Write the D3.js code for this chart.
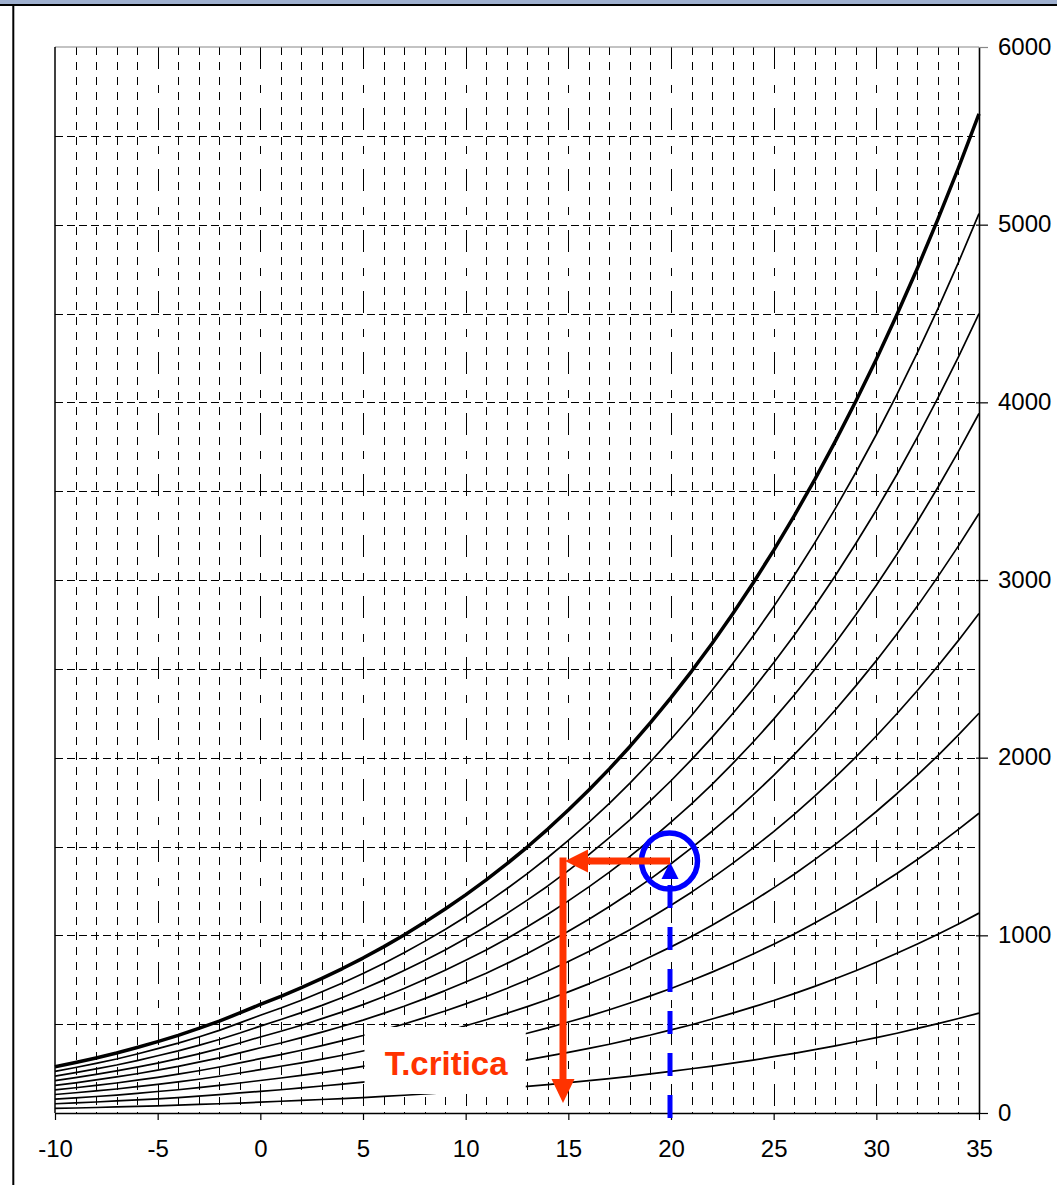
<!DOCTYPE html>
<html><head><meta charset="utf-8">
<script src="https://cdn.jsdelivr.net/npm/d3@7"></script>
<style>
html,body{margin:0;padding:0;background:#fff;}
svg{display:block;}
</style></head>
<body>
<svg id="chart" width="1057" height="1185"></svg>
<script>
// ---- data ----
const temps = [-10,-9,-8,-7,-6,-5,-4,-3,-2,-1,0,1,2,3,4,5,6,7,8,9,10,11,12,13,14,15,16,17,18,19,20,21,22,23,24,25,26,27,28,29,30,31,32,33,34,35];
const rh10 = [26,28,31,34,37,40,44,48,52,56,61,66,71,76,81,87,94,100,107,115,123,131,140,150,160,171,182,194,206,220,234,249,264,281,298,317,336,357,378,401,424,449,476,503,532,562];
const rh20 = [52,57,62,68,74,80,87,95,103,113,122,131,141,152,163,174,187,200,215,230,246,262,280,299,320,341,364,387,413,439,468,497,529,562,597,633,672,713,756,801,849,899,951,1006,1064,1125];
const rh30 = [78,85,93,101,111,121,131,143,155,169,183,197,212,227,244,262,281,301,322,344,368,394,421,449,479,512,545,581,619,659,701,746,793,843,895,950,1008,1070,1134,1202,1273,1348,1427,1509,1596,1687];
const rh40 = [104,114,124,135,148,161,175,190,207,225,244,263,282,303,325,349,374,401,429,459,491,525,561,599,639,682,727,775,825,879,935,994,1057,1124,1193,1267,1344,1426,1512,1602,1697,1797,1902,2012,2128,2250];
const rh50 = [130,142,155,169,185,201,219,238,259,282,306,329,353,379,407,436,468,501,537,574,614,656,701,749,799,853,909,969,1032,1099,1169,1243,1322,1405,1492,1584,1681,1783,1890,2003,2122,2247,2378,2516,2660,2812];
const rh60 = [156,170,186,203,221,241,262,286,310,338,367,394,424,455,488,523,561,601,644,689,737,787,841,898,959,1023,1091,1162,1238,1318,1403,1492,1586,1685,1790,1900,2017,2139,2268,2404,2546,2696,2853,3019,3192,3374];
const rh70 = [182,199,217,237,258,281,306,333,362,394,428,460,494,531,569,610,654,701,751,804,860,918,981,1048,1119,1194,1273,1356,1444,1538,1637,1740,1850,1966,2088,2217,2353,2496,2646,2804,2970,3145,3329,3522,3724,3937];
const rh80 = [208,227,248,270,295,322,350,381,414,450,489,526,565,606,650,698,748,802,858,918,982,1050,1122,1198,1278,1364,1454,1550,1650,1758,1870,1989,2114,2247,2386,2534,2689,2852,3024,3205,3394,3594,3804,4025,4256,4499];
const rh90 = [234,256,279,304,332,362,393,428,465,507,550,591,635,682,732,785,842,902,966,1033,1105,1181,1262,1347,1438,1535,1636,1743,1857,1977,2104,2237,2379,2528,2685,2850,3025,3209,3402,3605,3819,4044,4280,4528,4788,5062];
const rh100 = [260,284,310,338,369,402,437,476,517,563,611,657,706,758,813,872,935,1002,1073,1148,1228,1312,1402,1497,1598,1705,1818,1937,2063,2197,2338,2486,2643,2809,2983,3167,3361,3565,3780,4006,4243,4493,4755,5031,5320,5624];
const thinCurves = [rh10, rh20, rh30, rh40, rh50, rh60, rh70, rh80, rh90];
const satCurve = rh100;

const xTickLabels = [-10,-5,0,5,10,15,20,25,30,35];
const yTickLabels = [0,1000,2000,3000,4000,5000,6000];
const xMinor = [-9,-8,-7,-6,-4,-3,-2,-1,1,2,3,4,6,7,8,9,11,12,13,14,16,17,18,19,21,22,23,24,26,27,28,29,31,32,33,34];
const xMajor = [-5,0,5,10,15,20,25,30];
const yGrid = [500,1000,1500,2000,2500,3000,3500,4000,4500,5000,5500];

// annotation values
const pointT = 20, pointP = 1418;
const critT = 14.74, arrowEndP = 56;
const labelText = "T.critica";

// ---- drawing ----
const svg = d3.select("#chart");
const x = d3.scaleLinear().domain([-10,35]).range([55,979]);
const y = d3.scaleLinear().domain([0,6000]).range([1113,47]);
const fontFam = "'Liberation Sans', Arial, sans-serif";
const fmt = d => String(d);

// outer frame
svg.append("rect").attr("x",0).attr("y",0).attr("width",1057).attr("height",4).attr("fill","#9fb0cf");
svg.append("line").attr("x1",0).attr("x2",1057).attr("y1",5).attr("y2",5).attr("stroke","#000").attr("stroke-width",2);
svg.append("line").attr("x1",13.3).attr("x2",13.3).attr("y1",4).attr("y2",1185).attr("stroke","#000").attr("stroke-width",2);

const grid = svg.append("g");
grid.selectAll("line.minor").data(xMinor).join("line")
  .attr("x1",d=>Math.round(x(d))+0.5).attr("x2",d=>Math.round(x(d))+0.5)
  .attr("y1",y(6000)).attr("y2",y(0))
  .attr("stroke","#000").attr("stroke-width",1).attr("stroke-dasharray","8,7");
grid.selectAll("line.major").data(xMajor).join("line")
  .attr("x1",d=>Math.round(x(d))+0.5).attr("x2",d=>Math.round(x(d))+0.5)
  .attr("y1",y(6000)).attr("y2",y(0))
  .attr("stroke","#000").attr("stroke-width",1).attr("stroke-dasharray","22,16,8,15");
grid.selectAll("line.h").data(yGrid).join("line")
  .attr("x1",x(-10)).attr("x2",x(35))
  .attr("y1",d=>Math.round(y(d))+0.5).attr("y2",d=>Math.round(y(d))+0.5)
  .attr("stroke","#000").attr("stroke-width",1).attr("stroke-dasharray","8,4");

// curves
const line = d3.line().x((d,i)=>x(temps[i])).y(d=>y(d));
svg.append("g").selectAll("path").data(thinCurves).join("path")
  .attr("d",line).attr("fill","none").attr("stroke","#000").attr("stroke-width",1.7).attr("stroke-linejoin","round");
svg.append("path").datum(satCurve).attr("d",line)
  .attr("fill","none").attr("stroke","#000").attr("stroke-width",3.5).attr("stroke-linejoin","round");

// borders
svg.append("line").attr("x1",x(-10)).attr("x2",x(35)).attr("y1",y(6000)).attr("y2",y(6000)).attr("stroke","#888").attr("stroke-width",1.2);
svg.append("line").attr("x1",x(-10)).attr("x2",x(-10)).attr("y1",y(6000)).attr("y2",y(0)).attr("stroke","#000").attr("stroke-width",1.5);

// label box
const bx0 = x(5)+1.5, bx1 = x(13)-1.5;
svg.append("rect").attr("x",bx0).attr("y",1027).attr("width",bx1-bx0).attr("height",67).attr("fill","#fff");
svg.append("text").attr("x",(bx0+bx1)/2+1).attr("y",1075).attr("text-anchor","middle")
  .attr("font-family",fontFam).attr("font-weight","bold").attr("font-size",33)
  .attr("fill","#ff3300").text(labelText);

// axes
const xAxis = svg.append("g").attr("transform",`translate(0,${y(0)})`)
  .call(d3.axisBottom(x).tickValues(xTickLabels).tickFormat(fmt).tickSize(7).tickSizeOuter(0).tickPadding(20));
xAxis.select(".domain").attr("stroke","#000").attr("stroke-width",1.6);
xAxis.selectAll(".tick line").attr("stroke","#000").attr("stroke-width",1.2);
xAxis.selectAll(".tick text").attr("font-family",fontFam).attr("font-size",24).attr("fill","#000").attr("dy","0.71em");

const yAxis = svg.append("g").attr("transform",`translate(${x(35)},0)`)
  .call(d3.axisRight(y).tickValues(yTickLabels).tickFormat(fmt).tickSize(9).tickSizeOuter(0).tickPadding(10));
yAxis.select(".domain").attr("stroke","#000").attr("stroke-width",1.6);
yAxis.selectAll(".tick line").attr("x1",-3).attr("stroke","#000").attr("stroke-width",1.2);
yAxis.selectAll(".tick text").attr("font-family",fontFam).attr("font-size",24).attr("fill","#000").attr("dy","0.3em");
yAxis.selectAll(".tick").filter(d=>d===6000).select("line").attr("x1",0).attr("stroke","#888");

// blue annotation
const blue = "#0000ff";
svg.append("line").attr("x1",x(pointT)-1).attr("x2",x(pointT)-1)
  .attr("y1",y(0)+5).attr("y2",y(pointP)+24)
  .attr("stroke",blue).attr("stroke-width",5).attr("stroke-dasharray","23,19");
const px = x(pointT)-1, py = y(pointP);
svg.append("path").attr("d",`M${px},${py+1}L${px-8.5},${py+18}L${px+8.5},${py+18}Z`).attr("fill",blue);
svg.append("circle").attr("cx",px-0.5).attr("cy",py).attr("r",28).attr("fill","none").attr("stroke",blue).attr("stroke-width",5.5);

// red arrows
const red = "#ff3300";
const cx = x(critT);
svg.append("line").attr("x1",px).attr("x2",cx+22).attr("y1",py).attr("y2",py).attr("stroke",red).attr("stroke-width",7);
svg.append("path").attr("d",`M${cx+2},${py}L${cx+25},${py-11.5}L${cx+25},${py+11.5}Z`).attr("fill",red);
svg.append("line").attr("x1",cx).attr("x2",cx).attr("y1",py-3.5).attr("y2",y(arrowEndP)-22).attr("stroke",red).attr("stroke-width",7);
const ay = y(arrowEndP);
svg.append("path").attr("d",`M${cx},${ay}L${cx-11.5},${ay-24}L${cx+11.5},${ay-24}Z`).attr("fill",red);
</script>
</body></html>
